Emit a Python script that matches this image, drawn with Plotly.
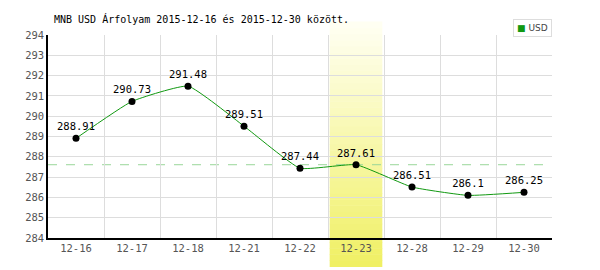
import plotly.graph_objects as go

categories = ["12-16", "12-17", "12-18", "12-21", "12-22", "12-23", "12-28", "12-29", "12-30"]
usd_values = [288.91, 290.73, 291.48, 289.51, 287.44, 287.61, 286.51, 286.1, 286.25]
value_labels = ["288.91", "290.73", "291.48", "289.51", "287.44", "287.61", "286.51", "286.1", "286.25"]
highlight_index = 5
reference_value = 287.61
y_ticks = list(range(284, 295))
title_text = "MNB USD Árfolyam 2015-12-16 és 2015-12-30 között."

xs = list(range(len(categories)))
mono = "DejaVu Sans Mono"

fig = go.Figure()

# gradient highlight band built from thin stacked rects
n = 40
y_lo, y_hi = -0.143, 1.064
top_c = (255, 255, 242)
bot_c = (240, 240, 100)
shapes = []
for i in range(n):
    t = i / (n - 1)
    r = round(bot_c[0] + (top_c[0] - bot_c[0]) * t)
    g = round(bot_c[1] + (top_c[1] - bot_c[1]) * t)
    b = round(bot_c[2] + (top_c[2] - bot_c[2]) * t)
    shapes.append(dict(type="rect", xref="x", yref="paper",
                       x0=highlight_index - 0.47, x1=highlight_index + 0.47,
                       y0=y_lo + (y_hi - y_lo) * i / n,
                       y1=y_lo + (y_hi - y_lo) * (i + 1) / n + 0.002,
                       fillcolor=f"rgb({r},{g},{b})", line=dict(width=0),
                       layer="below"))
shapes.append(dict(type="line", xref="paper", yref="y", x0=0, x1=1,
                   y0=reference_value, y1=reference_value,
                   line=dict(color="#99d699", width=1, dash="dash"), layer="below"))

fig.add_trace(go.Scatter(
    x=xs, y=usd_values, mode="lines+markers+text",
    text=value_labels, textposition="top center",
    textfont=dict(family=mono, size=10.5, color="#000"),
    line=dict(color="#119911", width=1, shape="spline", smoothing=0.4),
    marker=dict(color="#000", size=7),
    showlegend=False, cliponaxis=False,
))

fig.update_layout(
    width=600, height=270,
    margin=dict(l=48, r=48, t=35, b=32),
    paper_bgcolor="white", plot_bgcolor="white",
    shapes=shapes,
    xaxis=dict(range=[-0.5, len(categories) - 0.5],
               tickmode="array", tickvals=xs, ticktext=categories,
               showgrid=False, zeroline=False,
               showline=True, linecolor="#000", linewidth=1.5,
               ticks="", ticklen=0,
               tickfont=dict(family=mono, size=10.5, color="#555"),
               minor=dict(tick0=-0.5, dtick=1, showgrid=True, gridcolor="#dddddd", gridwidth=1, ticks="")),
    yaxis=dict(range=[284, 294], tickmode="array", tickvals=y_ticks,
               showgrid=True, gridcolor="#dddddd", zeroline=False,
               showline=True, linecolor="#000", linewidth=1.5,
               ticks="", ticklen=0,
               tickfont=dict(family=mono, size=10.5, color="#555")),
    annotations=[
        dict(text=title_text, xref="paper", yref="paper", x=0.008, y=1.0, yshift=8,
             xanchor="left", yanchor="bottom", showarrow=False,
             font=dict(family=mono, size=10, color="#000")),
        dict(text="<span style='color:#119911'>■</span> USD", xref="paper", yref="paper",
             x=1.0, y=1.0, yshift=-2, xanchor="right", yanchor="bottom", showarrow=False,
             font=dict(family="DejaVu Sans", size=9, color="#444"),
             bordercolor="#dddddd", borderwidth=1, borderpad=3, bgcolor="white"),
    ],
)

fig.write_html("out.html")
